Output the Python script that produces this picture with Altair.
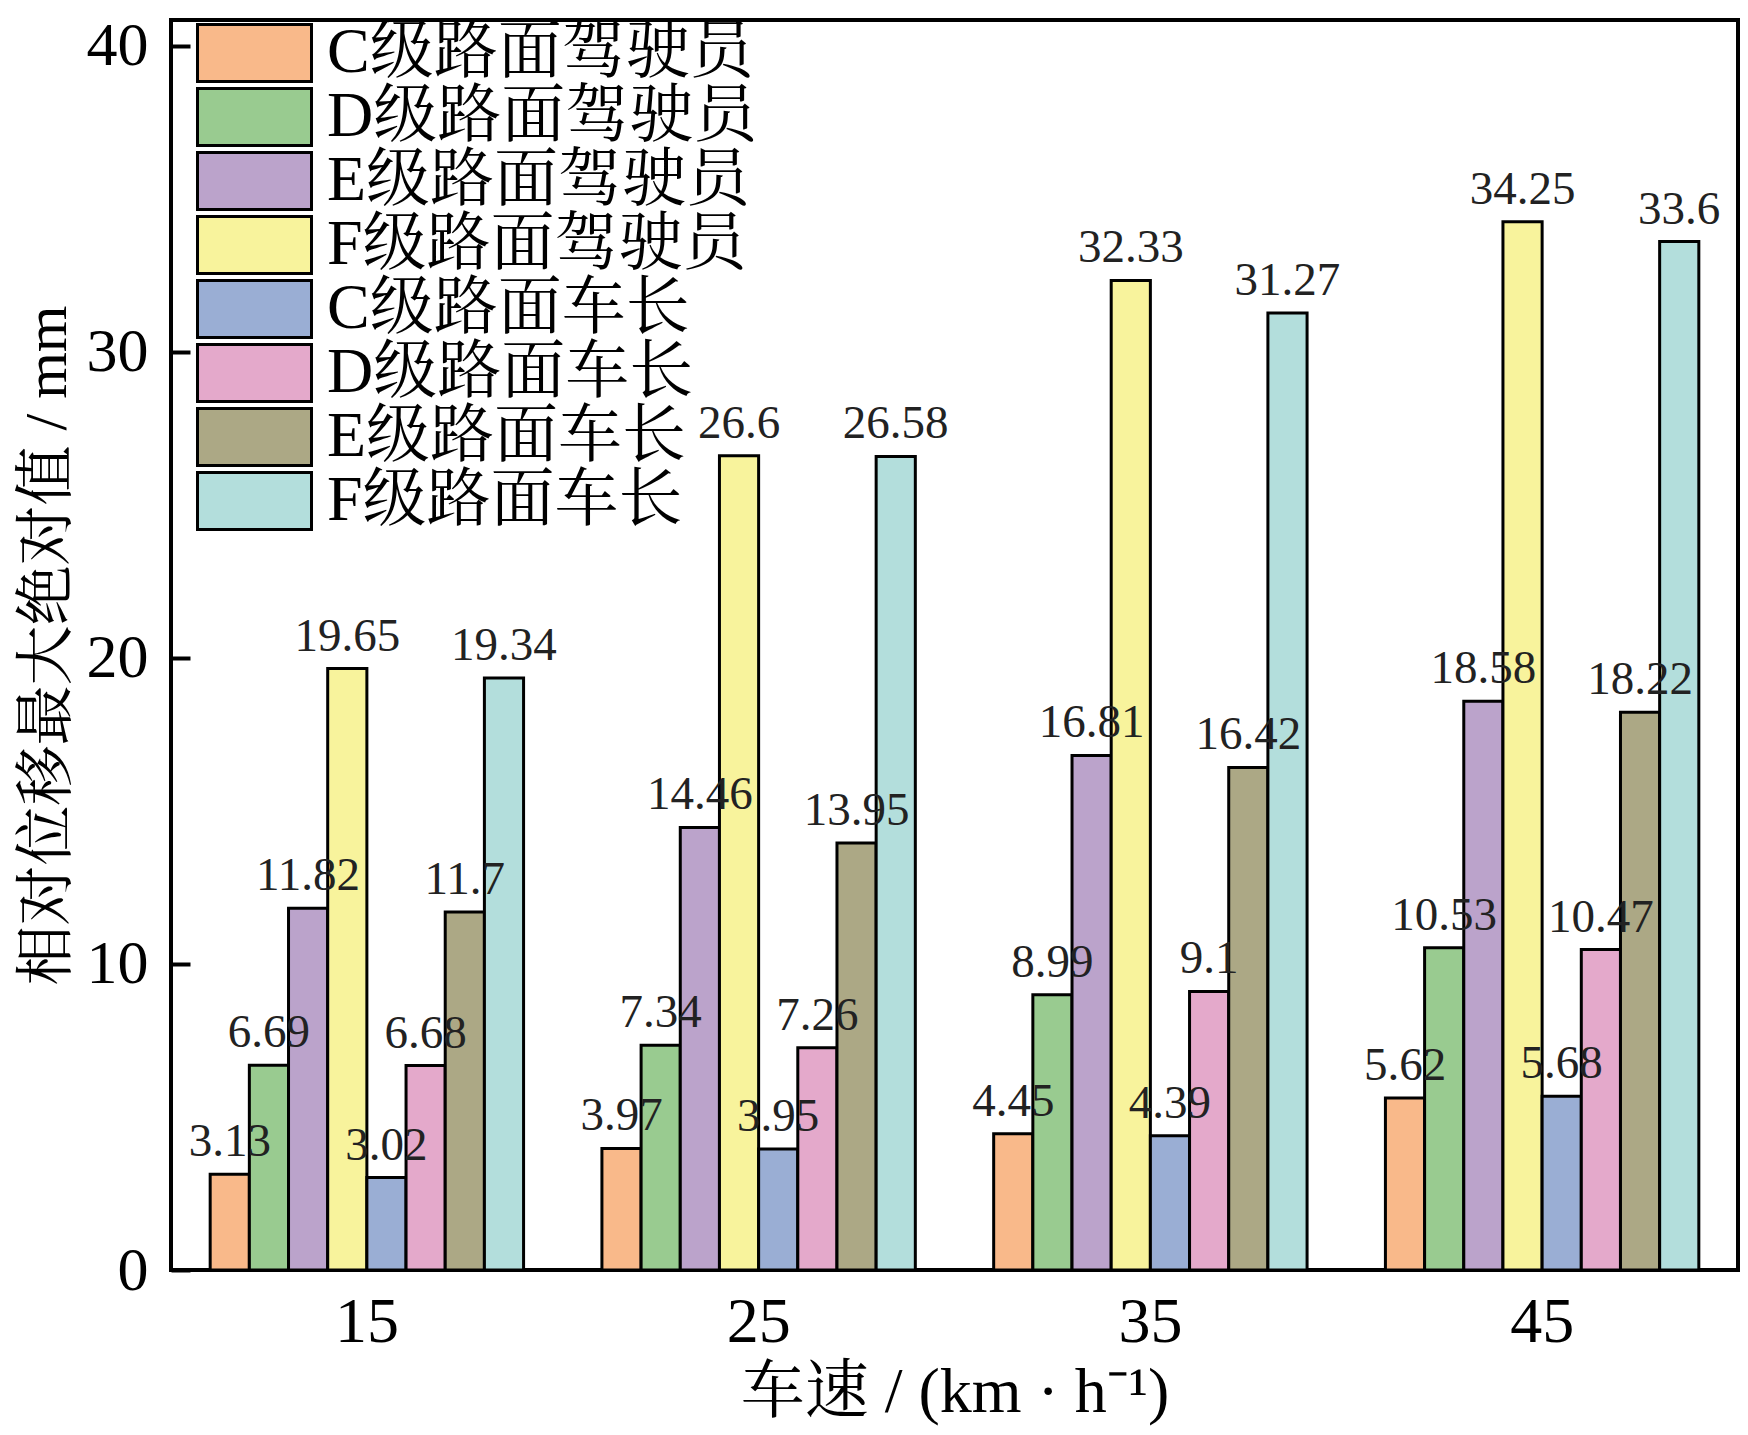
import altair as alt
import pandas as pd

speeds = ["15", "25", "35", "45"]
series = ["C级路面驾驶员", "D级路面驾驶员", "E级路面驾驶员", "F级路面驾驶员",
          "C级路面车长", "D级路面车长", "E级路面车长", "F级路面车长"]
colors = ["#F9B98A", "#99CB90", "#BBA3CB", "#F8F39C",
          "#9AAED4", "#E4A9CB", "#ACA885", "#B3DEDC"]

c_driver = [3.13, 3.97, 4.45, 5.62]
d_driver = [6.69, 7.34, 8.99, 10.53]
e_driver = [11.82, 14.46, 16.81, 18.58]
f_driver = [19.65, 26.6, 32.33, 34.25]
c_cmd = [3.02, 3.95, 4.39, 5.68]
d_cmd = [6.68, 7.26, 9.1, 10.47]
e_cmd = [11.7, 13.95, 16.42, 18.22]
f_cmd = [19.34, 26.58, 31.27, 33.6]

y_ticks = [0, 10, 20, 30, 40]

all_values = [c_driver, d_driver, e_driver, f_driver, c_cmd, d_cmd, e_cmd, f_cmd]
rows = []
for s, vals in zip(series, all_values):
    for sp, v in zip(speeds, vals):
        rows.append({"speed": sp, "series": s, "value": v, "label": str(v)})
df = pd.DataFrame(rows)

SERIF = "'Liberation Serif', 'Noto Serif CJK SC', 'Noto Sans CJK SC', serif"

base = alt.Chart(df).encode(
    x=alt.X("speed:N", sort=speeds,
            scale=alt.Scale(paddingInner=0.2, paddingOuter=0.1),
            axis=alt.Axis(title="车速 / (km · h⁻¹)", labelAngle=0, ticks=False, tickSize=0,
                          domain=False, labelFont=SERIF, labelFontSize=64, labelColor="black",
                          labelPadding=20, titleFont=SERIF, titleFontSize=64,
                          titleFontWeight="normal", titleColor="black", titlePadding=6)),
    xOffset=alt.XOffset("series:N", sort=series,
                        scale=alt.Scale(paddingInner=0, paddingOuter=0)),
    y=alt.Y("value:Q", scale=alt.Scale(domain=[0, 40.84], nice=False),
            axis=alt.Axis(title="相对位移最大绝对值 / mm", values=y_ticks, offset=-19,
                          tickSize=19, tickWidth=4, tickColor="black", domain=False,
                          grid=False, labelFont=SERIF, labelFontSize=62, labelColor="black",
                          labelPadding=23, titleFont=SERIF, titleFontSize=60,
                          titleFontWeight="normal", titleColor="black", titlePadding=8)),
)

bars = base.mark_bar(stroke="black", strokeWidth=3).encode(
    color=alt.Color("series:N", sort=series,
                    scale=alt.Scale(domain=series, range=colors),
                    legend=alt.Legend(title=None, orient="none", legendX=25, legendY=1,
                                      symbolType="M-1,-0.5H1V0.5H-1Z", symbolSize=12996,
                                      symbolStrokeColor="black", symbolStrokeWidth=3,
                                      symbolOpacity=1, labelFont=SERIF, labelFontSize=64,
                                      labelColor="black", labelOffset=14, labelLimit=0,
                                      clipHeight=64, rowPadding=0, padding=0))
)

labels = base.mark_text(baseline="bottom", dy=-8, font=SERIF, fontSize=47,
                        color="#222222").encode(text="label:N")

chart = alt.layer(bars, labels).properties(
    width=1567, height=1250,
    padding={"left": 163, "top": 12, "right": 2, "bottom": 157},
    autosize=alt.AutoSizeParams(type="none"),
).configure_view(stroke="black", strokeWidth=4)

chart.save("out.html", embed_options={"renderer": "svg", "actions": False})
